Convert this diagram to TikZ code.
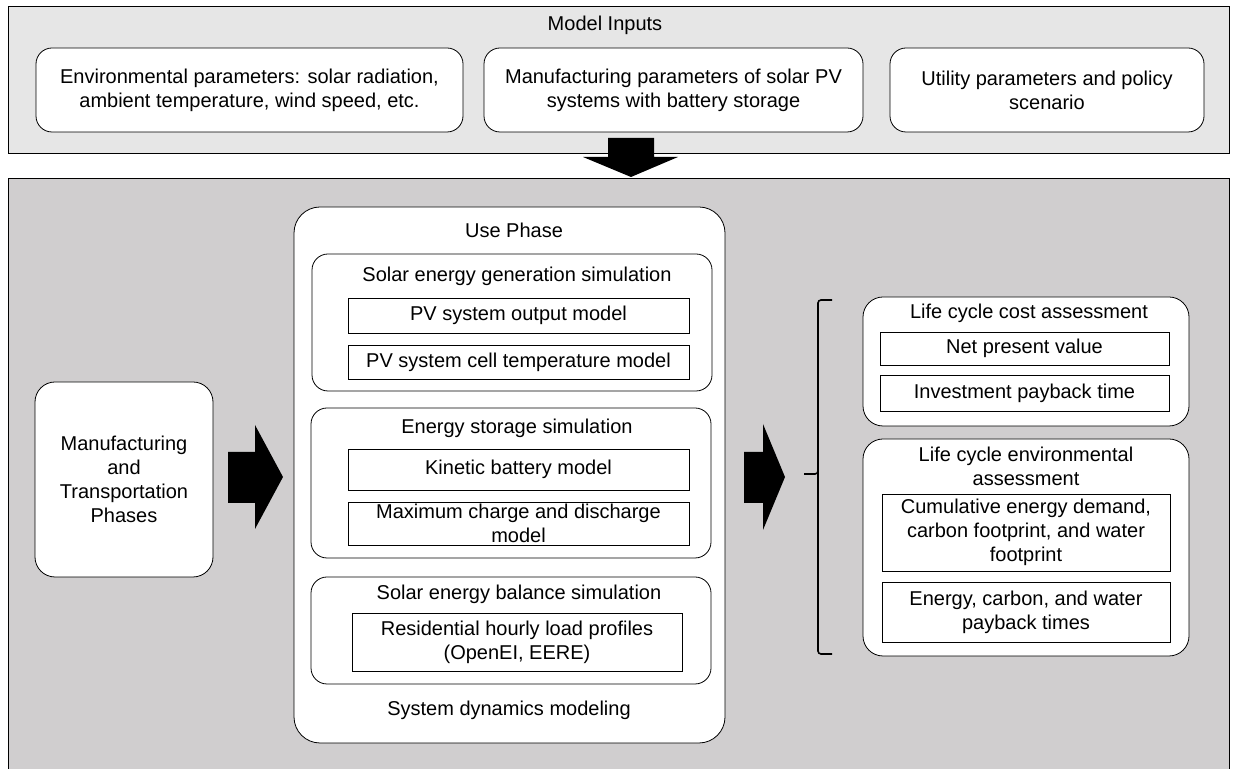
\documentclass[tikz,border=0pt]{standalone}
\usepackage{fontspec}
\setmainfont{Liberation Sans}
\usetikzlibrary{fit,calc}
\definecolor{inputfill}{HTML}{E6E6E6}
\definecolor{stagefill}{HTML}{D0CECF}
\tikzset{line width=.6pt,
  every node/.style={font=\fontsize{10}{12}\selectfont},
  sized/.style 2 args={minimum width=#1*.5pt,minimum height=#2*.5pt},
  panel/.style={draw,fill=inputfill,inner sep=0pt},
  roundbox/.style={draw,fill=white,rounded corners=8pt,inner sep=0pt,align=center},
  bigbox/.style={roundbox,rounded corners=13pt},
  plainbox/.style={draw,fill=white,inner sep=0pt,align=center},
  blockarrow/.style={fill=black},
  bracket/.style={draw,line width=.8pt,rounded corners=1.5pt}}
\begin{document}
\begin{tikzpicture}[x=.5pt,y=-.5pt]
\useasboundingbox (0,0) rectangle (1233,769);

% model inputs
\node[panel,fit={(8,6) (1229,153)}] (inputs) {};
\node (inputstitle) at (605,25) {Model Inputs};
\node[roundbox,sized={427}{84}] (envpar) at (249.5,90) {Environmental parameters: solar radiation,\\ambient temperature, wind speed, etc.};
\node[roundbox,sized={379}{84}] (mfgpar) at (673.5,90) {Manufacturing parameters of solar PV\\systems with battery storage};
\node[roundbox,sized={314}{84}] (utilpar) at (1047,90) {Utility parameters and policy\\scenario};

% life cycle stages
\fill[stagefill] (8,178) rectangle (1229,769);
\draw (8,769) |- (1229,178) -- (1229,769);
\fill[blockarrow] (608,138)--(654,138)--(654,157)--(678,157)--(631,177)--(583,157)--(608,157)--cycle;

\node[roundbox,rounded corners=10pt,sized={178}{195}] (mfgphase) at (124,479.5) {Manufacturing\\and\\Transportation\\Phases};
\fill[blockarrow] (228,452)--(255,452)--(255,425)--(283,477)--(255,529)--(255,503)--(228,503)--cycle;

\node[bigbox,sized={431}{536}] (usephase) at (509.5,475) {};
\node (usetitle) at (514,230) {Use Phase};
\node[roundbox,sized={400}{137}] (solargen) at (512,322.5) {};
\node (solargentitle) at (517,276) {Solar energy generation simulation};
\node[plainbox,sized={341}{35}] (pvoutput) at (518.5,315.5) {PV system output model};
\node[plainbox,sized={341}{34}] (pvcell) at (518.5,362) {PV system cell temperature model};
\node[roundbox,sized={400}{150}] (storage) at (511,483) {};
\node (storagetitle) at (517,428) {Energy storage simulation};
\node[plainbox,sized={341}{41}] (kibam) at (518.5,469.5) {Kinetic battery model};
\node[plainbox,sized={341}{43}] (maxcharge) at (518.5,523.5) {Maximum charge and discharge\\model};
\node[roundbox,sized={400}{107}] (balance) at (511,630.5) {};
\node (balancetitle) at (519,594) {Solar energy balance simulation};
\node[plainbox,sized={330}{58}] (loadprof) at (517,642) {Residential hourly load profiles\\(OpenEI, EERE)};
\node (sdmodel) at (509,710) {System dynamics modeling};
\fill[blockarrow] (744,452)--(763,452)--(763,424)--(785,477)--(763,530)--(763,503)--(744,503)--cycle;

% assessment results
\draw[bracket] (832,300) -| (818,474) -- (804,474);
\draw[bracket] (818,470) |- (832,654);
\node[roundbox,rounded corners=10pt,sized={326}{129}] (lcc) at (1026,361.5) {};
\node (lcctitle) at (1029,313) {Life cycle cost assessment};
\node[plainbox,sized={289}{33}] (npv) at (1024.5,348.5) {Net present value};
\node[plainbox,sized={289}{36}] (ipt) at (1024.5,393) {Investment payback time};
\node[roundbox,rounded corners=10pt,sized={326}{217}] (lce) at (1026,547.5) {};
\node[align=center] (lcetitle) at (1026,466) {Life cycle environmental\\assessment};
\node[plainbox,sized={288}{77}] (ced) at (1026,532.5) {Cumulative energy demand,\\carbon footprint, and water\\footprint};
\node[plainbox,sized={288}{60}] (epbt) at (1026,612) {Energy, carbon, and water\\payback times};
\end{tikzpicture}
\end{document}
